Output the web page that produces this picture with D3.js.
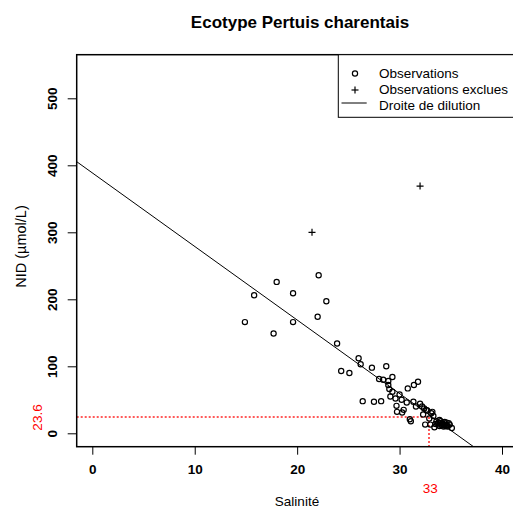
<!DOCTYPE html>
<html><head><meta charset="utf-8">
<script src="https://cdn.jsdelivr.net/npm/d3@7"></script>
<style>body{margin:0;background:#fff}svg{display:block;font-family:"Liberation Sans",Arial,sans-serif}</style>
</head><body><svg id="c" width="513" height="510"></svg>
<script>
const title = "Ecotype Pertuis charentais";
const xLabel = "Salinité";
const yLabel = "NID (µmol/L)";
const xTicks = [0, 10, 20, 30, 40];
const yTicks = [0, 100, 200, 300, 400, 500];
const legendLabels = ["Observations", "Observations exclues", "Droite de dilution"];
// Observations
const obsSal = [14.9,15.8,17.7,18.0,19.6,19.6,22.0,22.1,22.85,23.9,26.0,26.2,24.3,25.1,27.3,28.7,
  28.0,28.4,28.9,29.3,28.9,29.0,30.8,31.4,31.8,26.4,27.5,28.2,29.3,30.0,29.1,29.6,30.2,29.7,30.4,
  29.75,30.25,30.7,31.35,32.0,32.2,32.4,32.6,32.7,33.1,33.2,33.3,31.0,31.1,32.5,33.0,33.4,33.5,
  33.8,34.0,34.2,34.4,34.6,34.8,34.9,33.9,34.1,34.3,34.5,34.7,33.6,34.0,34.4,35.1,33.7,34.2,34.6,33.9,34.3,32.9,31.6,32.3];
const obsNid = [166,206,149,226,209,166,174,236,197,134,112,103,93,90,98,100,
  81,80,78,84,72,66,67,72,77,48,47,48,62,58,55,52,50,41,35,
  32,31,46,47,44,40,37,35,34,30,32,26,21,18,13,13,9,14,
  16,15,14,13,12,15,13,11,12,10,11,10,18,18,17,8,13,15,16,20,12,22,40,28];
// Excluded observations
const excSal = [21.45, 32.0];
const excNid = [300, 369];
// Dilution line N = a + b * S
const lineIntercept = 388.7;
const lineSlope = -10.98;
// Reference marks
const refSal = 33;
const refNid = 23.6;

const svg = d3.select("#c");
const L = 76.7, T = 54.7, B = 446.7, R = 524;
const x = d3.scaleLinear().domain([0, 40]).range([92.3, 502]);
const y = d3.scaleLinear().domain([0, 500]).range([433.3, 98.3]);

svg.append("defs").append("clipPath").attr("id","clip")
  .append("rect").attr("x",L).attr("y",T).attr("width",R-L).attr("height",B-T);

// Title
svg.append("text").attr("x",300).attr("y",28).attr("text-anchor","middle")
  .attr("font-weight","bold").attr("font-size",17).text(title);

// axes
const xa = svg.append("g").attr("transform",`translate(0,${B})`)
  .call(d3.axisBottom(x).tickValues(xTicks).tickSize(8).tickPadding(10).tickFormat(d3.format("d")));
xa.select(".domain").remove();
xa.selectAll("text").attr("font-size",13.5).attr("font-weight","bold").attr("font-family","Liberation Sans, Arial, sans-serif").attr("fill","#000");
xa.selectAll("line").attr("stroke","#000");

const ya = svg.append("g").attr("transform",`translate(${L},0)`)
  .call(d3.axisLeft(y).tickValues(yTicks).tickSize(9).tickPadding(0).tickFormat(d3.format("d")));
ya.select(".domain").remove();
ya.selectAll("line").attr("stroke","#000");
ya.selectAll("text").remove();
ya.selectAll(".tick").append("text")
  .attr("transform","translate(-24,0) rotate(-90)").attr("text-anchor","middle").attr("dy","0.35em")
  .attr("font-size",13.5).attr("font-weight","bold").attr("fill","#000").text(d=>d);

// axis labels
svg.append("text").attr("x",297).attr("y",510-4).attr("text-anchor","middle").attr("font-size",13.5).text(xLabel);
svg.append("text").attr("transform",`translate(21,${246.5}) rotate(-90)`).attr("text-anchor","middle")
  .attr("dy","0.35em").attr("font-size",14.5).text(yLabel);

const plot = svg.append("g").attr("clip-path","url(#clip)");
// reference dotted lines
const yr = Math.round(y(refNid)), xr = Math.round(x(refSal)) - 1;
plot.append("line").attr("x1",L).attr("x2",xr).attr("y1",yr).attr("y2",yr)
  .attr("stroke","#ff3030").attr("stroke-dasharray","2,2").attr("stroke-width",2).attr("stroke-opacity",0.8);
plot.append("line").attr("x1",xr).attr("x2",xr).attr("y1",yr).attr("y2",B)
  .attr("stroke","#ff3030").attr("stroke-dasharray","2,2").attr("stroke-width",2).attr("stroke-opacity",0.8);
svg.append("text").attr("x",x(refSal)).attr("y",493).attr("text-anchor","middle").attr("font-size",13.5)
  .attr("fill","red").text(refSal);
svg.append("text").attr("transform",`translate(37.5,${y(refNid)}) rotate(-90)`).attr("text-anchor","middle")
  .attr("dy","0.35em").attr("font-size",13.5).attr("fill","red").text(refNid);

// dilution line
const x0 = x.invert(L), x1 = x.invert(R);
plot.append("line").attr("x1",x(x0)).attr("y1",y(lineIntercept+lineSlope*x0))
  .attr("x2",x(x1)).attr("y2",y(lineIntercept+lineSlope*x1)).attr("stroke","#000").attr("stroke-width",1);

// observations
const obs = obsSal.map((s,i)=>({s, n: obsNid[i]}));
plot.selectAll("circle.o").data(obs).enter().append("circle").attr("class","o")
  .attr("cx",d=>x(d.s)).attr("cy",d=>y(d.n)).attr("r",2.6)
  .attr("fill","none").attr("stroke","#000").attr("stroke-width",1.2);
// excluded
const exc = excSal.map((s,i)=>({s, n: excNid[i]}));
const pg = plot.selectAll("g.p").data(exc).enter().append("g").attr("class","p")
  .attr("transform",d=>`translate(${x(d.s)},${y(d.n)})`);
pg.append("line").attr("x1",-3.5).attr("x2",3.5).attr("stroke","#000").attr("stroke-width",1.2);
pg.append("line").attr("y1",-3.5).attr("y2",3.5).attr("stroke","#000").attr("stroke-width",1.2);

// plot box
svg.append("rect").attr("x",L).attr("y",T).attr("width",R-L).attr("height",B-T)
  .attr("fill","none").attr("stroke","#000").attr("stroke-width",1.5);

// legend
const lg = svg.append("g");
lg.append("rect").attr("x",338.3).attr("y",T).attr("width",R-338.3).attr("height",117.3-T)
  .attr("fill","#fff").attr("stroke","#000").attr("stroke-width",1);
const rows = [73, 89, 105];
lg.selectAll("text").data(legendLabels).enter().append("text")
  .attr("x",379).attr("y",(d,i)=>rows[i]).attr("dy","0.35em").attr("font-size",13.5).text(d=>d);
lg.append("circle").attr("cx",355).attr("cy",rows[0]+0.5).attr("r",2.6).attr("fill","none").attr("stroke","#000").attr("stroke-width",1.2);
lg.append("line").attr("x1",351.5).attr("x2",358.5).attr("y1",rows[1]+1).attr("y2",rows[1]+1).attr("stroke","#000").attr("stroke-width",1.2);
lg.append("line").attr("x1",355).attr("x2",355).attr("y1",rows[1]-2.5).attr("y2",rows[1]+4.5).attr("stroke","#000").attr("stroke-width",1.2);
lg.append("line").attr("x1",341.5).attr("x2",366.7).attr("y1",rows[2]-2).attr("y2",rows[2]-2).attr("stroke","#000").attr("stroke-width",1);
</script></body></html>
